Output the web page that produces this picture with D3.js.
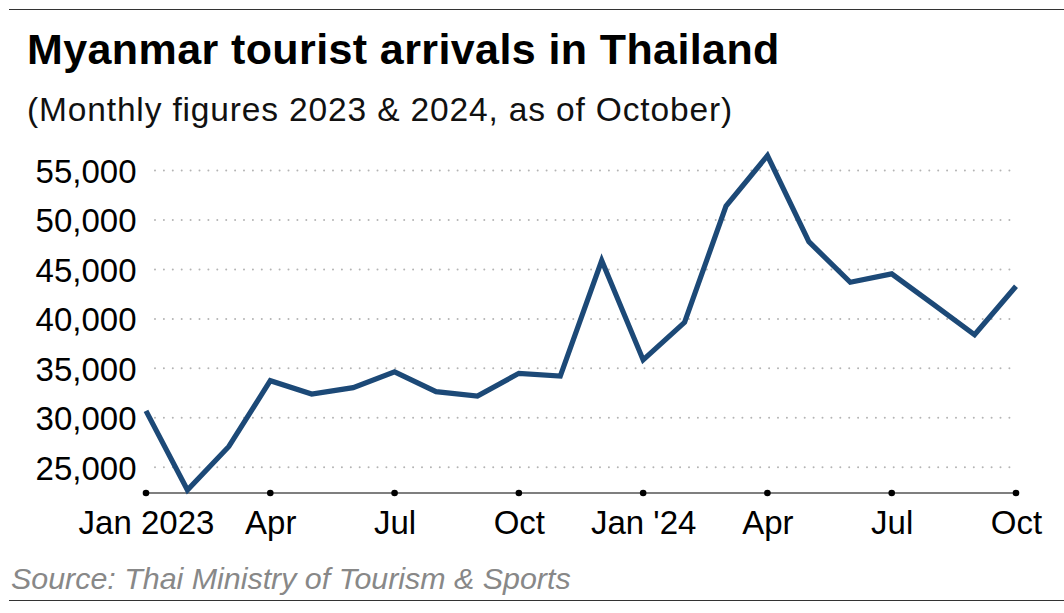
<!DOCTYPE html>
<html>
<head>
<meta charset="utf-8">
<script src="https://cdn.jsdelivr.net/npm/d3@7"></script>
<style>
  body { margin: 0; background: #fff; }
  svg { display: block; font-family: "Liberation Sans", Arial, sans-serif; }
</style>
</head>
<body>
<div id="chart"></div>
<script>
const months = [
  '2023-01', '2023-02', '2023-03', '2023-04', '2023-05', '2023-06',
  '2023-07', '2023-08', '2023-09', '2023-10', '2023-11', '2023-12',
  '2024-01', '2024-02', '2024-03', '2024-04', '2024-05', '2024-06',
  '2024-07', '2024-08', '2024-09', '2024-10'
];
const arrivals = [
  30700, 22700, 27100, 33750, 32400, 33050,
  34650, 32650, 32200, 34500, 34220, 45900,
  35850, 39650, 51400, 56500, 47800, 43700,
  44550, 41500, 38400, 43300
];
const tickMonths = ['2023-01', '2023-04', '2023-07', '2023-10', '2024-01', '2024-04', '2024-07', '2024-10'];
const tickLabels = ['Jan 2023', 'Apr', 'Jul', 'Oct', "Jan '24", 'Apr', 'Jul', 'Oct'];
const yTicks = [25000, 30000, 35000, 40000, 45000, 50000, 55000];

const width = 1064;
const height = 613;
const left = 146;
const right = 1016;
const axisY = 493;

const svg = d3.select('#chart').append('svg')
  .attr('width', width)
  .attr('height', height);

// rules top and bottom
svg.append('line')
  .attr('x1', 9).attr('x2', width).attr('y1', 9.5).attr('y2', 9.5)
  .attr('stroke', '#333').attr('stroke-width', 1.2);
svg.append('line')
  .attr('x1', 9).attr('x2', width).attr('y1', 600.5).attr('y2', 600.5)
  .attr('stroke', '#333').attr('stroke-width', 1.2);

svg.append('text')
  .attr('x', 27).attr('y', 64)
  .attr('font-size', 43).attr('font-weight', 'bold')
  .attr('letter-spacing', 0.4)
  .attr('fill', '#000')
  .text('Myanmar tourist arrivals in Thailand');

svg.append('text')
  .attr('x', 27).attr('y', 121)
  .attr('font-size', 33.5)
  .attr('letter-spacing', 0.85)
  .attr('fill', '#111')
  .text('(Monthly figures 2023 & 2024, as of October)');

const x = d3.scalePoint()
  .domain(months)
  .range([left, right]);

const y = d3.scaleLinear()
  .domain([22400, 55000])
  .range([axisY, 170.5]);

// dotted grid
svg.append('g')
  .selectAll('line')
  .data(yTicks)
  .join('line')
    .attr('x1', left + 9)
    .attr('x2', 1010)
    .attr('y1', d => y(d))
    .attr('y2', d => y(d))
    .attr('stroke', '#b4b4b4')
    .attr('stroke-width', 2)
    .attr('stroke-linecap', 'round')
    .attr('stroke-dasharray', '0 8.9');

svg.append('g')
  .attr('transform', `translate(${left},0)`)
  .call(d3.axisLeft(y).tickValues(yTicks).tickSize(0).tickPadding(9.5).tickFormat(d3.format(',')))
  .call(g => g.select('.domain').remove())
  .call(g => g.selectAll('text')
    .attr('font-size', 33)
    .attr('font-family', '"Liberation Sans", Arial, sans-serif')
    .attr('fill', '#000')
    .attr('dy', '0.36em'));

// x axis
svg.append('line')
  .attr('x1', left).attr('x2', right)
  .attr('y1', axisY).attr('y2', axisY)
  .attr('stroke', '#555').attr('stroke-width', 1.5);

svg.append('g')
  .attr('transform', `translate(0,${axisY})`)
  .call(d3.axisBottom(x).tickValues(tickMonths).tickSize(0).tickPadding(17.6)
    .tickFormat((d, i) => tickLabels[i]))
  .call(g => g.select('.domain').remove())
  .call(g => g.selectAll('text')
    .attr('font-size', 33)
    .attr('font-family', '"Liberation Sans", Arial, sans-serif')
    .attr('fill', '#000'));

// the line
const line = d3.line()
  .x((d, i) => x(months[i]))
  .y(d => y(d));

svg.append('path')
  .datum(arrivals)
  .attr('d', line)
  .attr('fill', 'none')
  .attr('stroke', '#1c4977')
  .attr('stroke-width', 5.2)
  .attr('stroke-linejoin', 'miter');

svg.append('g')
  .selectAll('circle')
  .data(tickMonths)
  .join('circle')
    .attr('cx', d => x(d))
    .attr('cy', axisY)
    .attr('r', 3.3)
    .attr('fill', '#000');

svg.append('text')
  .attr('x', 11).attr('y', 589)
  .attr('font-size', 30.4).attr('font-style', 'italic')
  .attr('fill', '#888')
  .text('Source: Thai Ministry of Tourism & Sports');
</script>
</body>
</html>
